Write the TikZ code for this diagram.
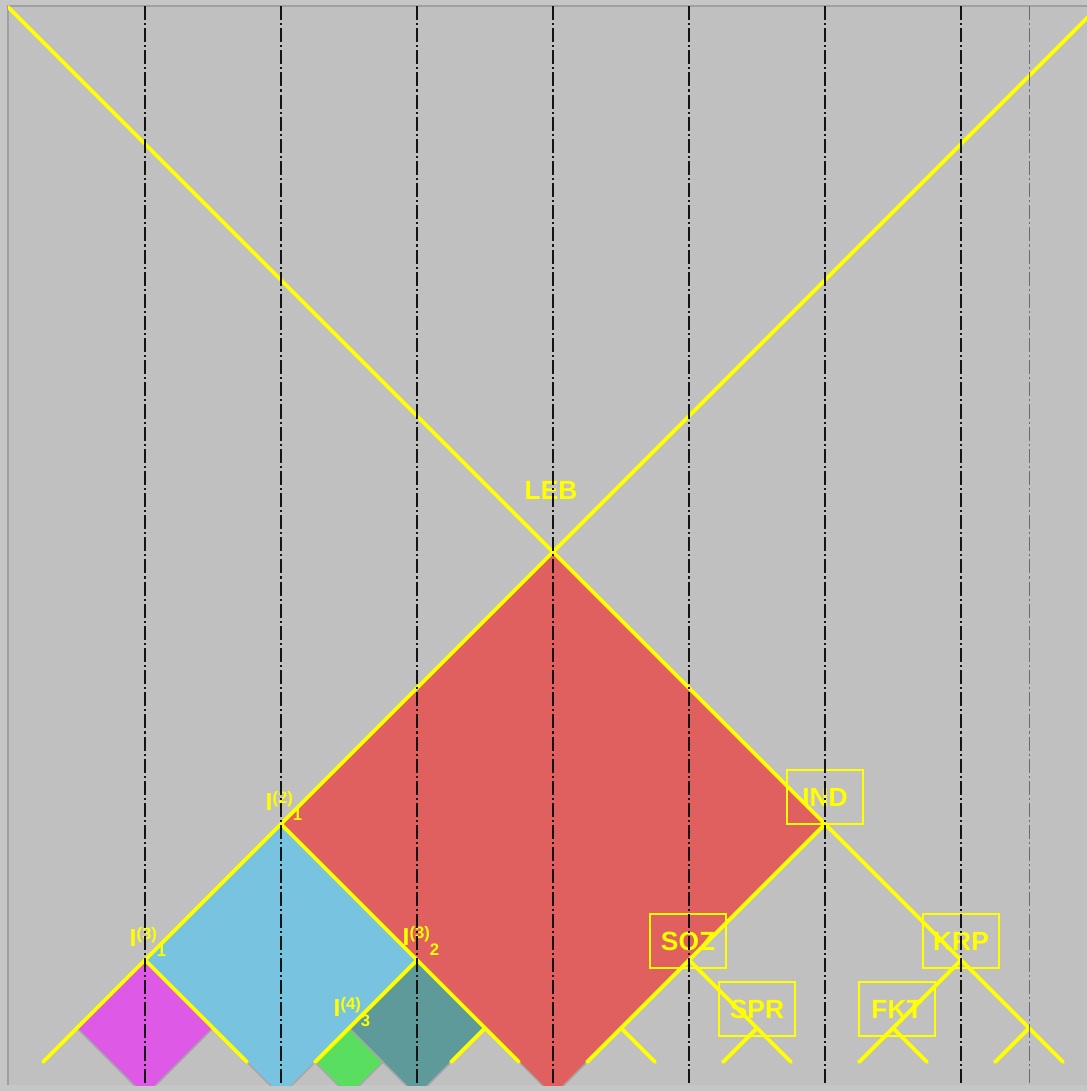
\documentclass[tikz,border=0pt]{standalone}
\usepackage{fontspec}
\setmainfont{Liberation Sans}
\usepackage{tikz}
\usetikzlibrary{positioning, calc}
\definecolor{panelbg}{RGB}{192, 192, 192}
\definecolor{panelouter}{RGB}{198, 198, 198}
\definecolor{panelrim}{RGB}{160, 160, 160}
\definecolor{treeline}{RGB}{255, 255, 0}
\definecolor{lebred}{RGB}{224, 96, 96}
\definecolor{iblue}{RGB}{120, 196, 224}
\definecolor{imagenta}{RGB}{222, 90, 230}
\definecolor{iteal}{RGB}{94, 154, 154}
\definecolor{igreen}{RGB}{90, 222, 96}
\definecolor{guide}{RGB}{20, 20, 20}
\newcommand{\ilabel}[2]{{\fontsize{14}{16}\selectfont I}\raisebox{3.7pt}{\fontsize{9.5}{10}\selectfont(#1)}\raisebox{-5.5pt}{\fontsize{9.5}{10}\selectfont #2}}
\tikzset{
  x=0.02cm, y=-0.02cm,
  font=\fontsize{15}{18}\selectfont\bfseries,
  treeedge/.style={draw=treeline, line width=2.2pt, line cap=round},
  guideline/.style={
    draw=guide, line width=1pt,
    dash pattern=on 8pt off 1.7pt on 1.2pt off 1.7pt
  },
  faintguide/.style={guideline, draw=gray!85!black, line width=0.5pt},
  block/.style={draw=gray!70, line width=0.8pt},
  tag/.style={text=treeline, inner sep=0pt},
  tagbox/.style={
    draw=treeline, line width=1.2pt, text=treeline, inner sep=0pt,
    minimum width=1.52cm, minimum height=1.08cm
  }
}
\begin{document}
\begin{tikzpicture}

  \useasboundingbox (0,0) rectangle (1087,1091);

  % Panel
  \fill[panelouter] (0,0) rectangle (1087,1091);
  \fill[panelbg] (8,6) rectangle (1087,1085);
  \draw[panelrim, line width=1.2pt] (8,1085) -- (8,6) -- (1087,6);

  \begin{scope}
  \clip (8,6) rectangle (1087,1085);

  % Tree vertices
  \coordinate (tl) at (8,7);
  \coordinate (tr) at (1098,7);
  \coordinate (leb) at (553,552);
  \coordinate (ione2) at (281,824);
  \coordinate (ind) at (825,824);
  \coordinate (ione3) at (145,960);
  \coordinate (itwo3) at (417,960);
  \coordinate (soz) at (689,960);
  \coordinate (krp) at (961,960);
  \coordinate (ithree4) at (349,1028);
  \coordinate (nsix) at (485,1028);
  \coordinate (neight) at (621,1028);
  \coordinate (spr) at (757,1028);
  \coordinate (fkt) at (893,1028);
  \coordinate (nfourteen) at (1029,1028);

  % Leaves
  \coordinate (l0) at (43,1062);
  \coordinate (l3) at (247,1062);
  \coordinate (l4) at (315,1062);
  \coordinate (l5) at (383,1062);
  \coordinate (l6) at (451,1062);
  \coordinate (l7) at (519,1062);
  \coordinate (l8) at (587,1062);
  \coordinate (l9) at (655,1062);
  \coordinate (l10) at (723,1062);
  \coordinate (l11) at (791,1062);
  \coordinate (l12) at (859,1062);
  \coordinate (l13) at (927,1062);
  \coordinate (l14) at (995,1062);
  \coordinate (l15) at (1063,1062);

  % Lower corners of the blocks
  \coordinate (magleft) at (77,1028);
  \coordinate (magright) at (213,1028);
  \coordinate (redbot) at (553,1096);
  \coordinate (bluebot) at (281,1096);
  \coordinate (magbot) at (145,1096);
  \coordinate (tealbot) at (417,1096);
  \coordinate (greenbot) at (349,1096);

  % Blocks
  \filldraw[block, fill=lebred] (leb) -- (ind) -- (redbot) -- (ione2) -- cycle;
  \filldraw[block, fill=iblue] (ione2) -- (itwo3) -- (bluebot) -- (ione3) -- cycle;
  \filldraw[block, fill=imagenta] (ione3) -- (magright) -- (magbot) -- (magleft) -- cycle;
  \filldraw[block, fill=iteal] (itwo3) -- (nsix) -- (tealbot) -- (ithree4) -- cycle;
  \filldraw[block, fill=igreen] (ithree4) -- (l5) -- (greenbot) -- (l4) -- cycle;

  % Tree
  \draw[treeedge] (tl) -- (leb) -- (tr);
  \draw[treeedge] (leb) -- (ione2);
  \draw[treeedge] (leb) -- (ind);
  \draw[treeedge] (ione2) -- (ione3) -- (l0);
  \draw[treeedge] (ione3) -- (l3);
  \draw[treeedge] (ione2) -- (itwo3) -- (l7);
  \draw[treeedge] (itwo3) -- (ithree4) -- (l4);
  \draw[treeedge] (nsix) -- (l6);
  \draw[treeedge] (ind) -- (soz);
  \draw[treeedge] (ind) -- (krp);
  \draw[treeedge] (soz) -- (neight) -- (l8);
  \draw[treeedge] (neight) -- (l9);
  \draw[treeedge] (soz) -- (spr) -- (l11);
  \draw[treeedge] (spr) -- (l10);
  \draw[treeedge] (krp) -- (fkt) -- (l12);
  \draw[treeedge] (fkt) -- (l13);
  \draw[treeedge] (krp) -- (nfourteen) -- (l15);
  \draw[treeedge] (nfourteen) -- (l14);

  % Labels
  \node[tag] (lebtag) at (551,490) {LEB};
  \node[tag] (ione2tag) at (284,806) {\ilabel{2}{1}};
  \node[tag] (ione3tag) at (148,942) {\ilabel{3}{1}};
  \node[tag] (itwo3tag) at (421,941) {\ilabel{3}{2}};
  \node[tag] (ithree4tag) at (352,1012) {\ilabel{4}{3}};
  \node[tagbox] (indtag) at (825,797) {IND};
  \node[tagbox] (soztag) at (688,941) {SOZ};
  \node[tagbox] (krptag) at (961,941) {KRP};
  \node[tagbox] (sprtag) at (757,1009) {SPR};
  \node[tagbox] (fkttag) at (897,1009) {FKT};

  % Guides
  \draw[guideline] (145,6) -- (145,1085);
  \draw[guideline] (281,6) -- (281,1085);
  \draw[guideline] (417,6) -- (417,1085);
  \draw[guideline] (553,6) -- (553,1085);
  \draw[guideline] (689,6) -- (689,1085);
  \draw[guideline] (825,6) -- (825,1085);
  \draw[guideline] (961,6) -- (961,1085);
  \draw[faintguide] (1029,6) -- (1029,1085);

  \end{scope}

\end{tikzpicture}
\end{document}
